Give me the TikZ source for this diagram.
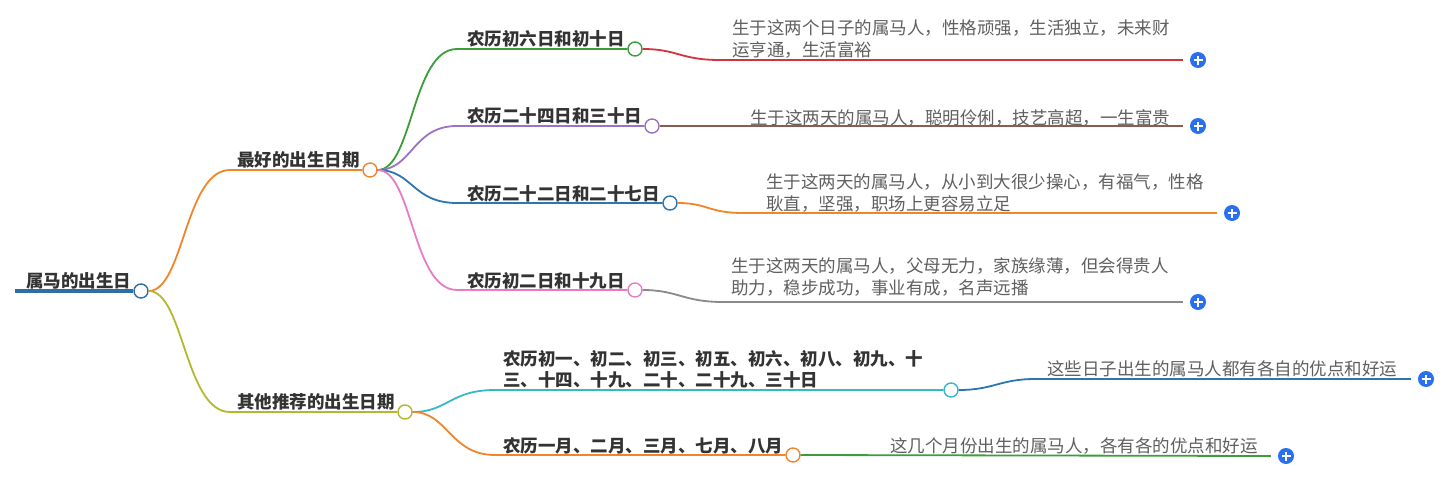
\documentclass[tikz,border=0pt]{standalone}
\usepackage{fontspec}
\newfontfamily\cjk{Noto Sans CJK SC}
\definecolor{rootblue}{HTML}{2E6EA6}
\definecolor{corange}{HTML}{F0852B}
\definecolor{colive}{HTML}{B3B92F}
\definecolor{cgreen}{HTML}{3A9E3A}
\definecolor{cpurple}{HTML}{9C72C2}
\definecolor{cblue}{HTML}{2B77B3}
\definecolor{cpink}{HTML}{E57CC5}
\definecolor{cred}{HTML}{D2343F}
\definecolor{cbrown}{HTML}{8C5B52}
\definecolor{cgray}{HTML}{8A8A8A}
\definecolor{ccyan}{HTML}{36B8C9}
\definecolor{plusblue}{HTML}{2A6FEF}
\definecolor{txtdark}{HTML}{333333}
\definecolor{txtgray}{HTML}{606060}
\begin{document}
\begin{tikzpicture}[x=1pt,y=-1pt,
  dot/.style={circle,draw=#1,fill=white,line width=1.4pt,minimum size=14pt,inner sep=0pt},
  br/.style={draw=#1,line width=1.8pt},
  lbl/.style={anchor=base west,inner sep=0pt,text=txtdark,font=\cjk\bfseries\fontsize{17.5}{21}\selectfont,align=left},
  leaf/.style={anchor=base west,inner sep=0pt,text=txtgray,font=\cjk\fontsize{17.5}{22}\selectfont,align=left},
  plusbtn/.style={circle,fill=plusblue,minimum size=16pt,inner sep=0pt,
    path picture={\draw[white,line width=1.6pt]
      ([xshift=-4.5pt]path picture bounding box.center) -- ([xshift=4.5pt]path picture bounding box.center)
      ([yshift=-4.5pt]path picture bounding box.center) -- ([yshift=4.5pt]path picture bounding box.center);}}]
\useasboundingbox[fill=white] (0,0) rectangle (1448,482);

% root
\coordinate (r0) at (15,291);
\node[lbl] (troot) at (26,287) {属马的出生日};
\node[dot=rootblue] (c0) at (141,291) {};
\draw[rootblue,line width=3.5pt] (r0) -- (c0.west);

% level 1
\coordinate (p1) at (230,170);
\coordinate (p2) at (230,412);
\node[lbl] (t1) at (237,166) {最好的出生日期};
\node[lbl] (t2) at (237,408) {其他推荐的出生日期};
\node[dot=corange] (c1) at (370,170) {};
\node[dot=colive] (c2) at (405,412) {};
\draw[br=corange] (c0.east) .. controls +(35,0) and +(-45,0) .. (p1) -- (c1.west);
\draw[br=colive] (c0.east) .. controls +(35,0) and +(-45,0) .. (p2) -- (c2.west);

% level 2 under c1
\coordinate (q1) at (457,49);
\coordinate (q2) at (457,126);
\coordinate (q3) at (457,203);
\coordinate (q4) at (457,290);
\node[lbl] (t11) at (467,45) {农历初六日和初十日};
\node[lbl] (t12) at (467,122) {农历二十四日和三十日};
\node[lbl] (t13) at (467,200) {农历二十二日和二十七日};
\node[lbl] (t14) at (467,287) {农历初二日和十九日};
\node[dot=cgreen] (d1) at (635,49) {};
\node[dot=cpurple] (d2) at (652,126) {};
\node[dot=cblue] (d3) at (670,203) {};
\node[dot=cpink] (d4) at (635,290) {};
\draw[br=cgreen] (c1.east) .. controls +(35,0) and +(-45,0) .. (q1) -- (d1.west);
\draw[br=cpurple] (c1.east) .. controls +(35,0) and +(-45,0) .. (q2) -- (d2.west);
\draw[br=cblue] (c1.east) .. controls +(35,0) and +(-45,0) .. (q3) -- (d3.west);
\draw[br=cpink] (c1.east) .. controls +(35,0) and +(-45,0) .. (q4) -- (d4.west);

% level 2 under c2
\coordinate (q5) at (495,390);
\coordinate (q6) at (495,455);
\node[lbl] (t21) at (503,386) {农历初一、初二、初三、初五、初六、初八、初九、十\\三、十四、十九、二十、二十九、三十日};
\node[lbl] (t22) at (503,452) {农历一月、二月、三月、七月、八月};
\node[dot=ccyan] (e1) at (951,390) {};
\node[dot=corange] (e2) at (793,455) {};
\draw[br=ccyan] (c2.east) .. controls +(35,0) and +(-45,0) .. (q5) -- (e1.west);
\draw[br=corange] (c2.east) .. controls +(35,0) and +(-45,0) .. (q6) -- (e2.west);

% leaves
\node[leaf] (l1) at (732,56) {生于这两个日子的属马人，性格顽强，生活独立，未来财\\运亨通，生活富裕};
\node[leaf] (l2) at (750,124) {生于这两天的属马人，聪明伶俐，技艺高超，一生富贵};
\node[leaf] (l3) at (766,210) {生于这两天的属马人，从小到大很少操心，有福气，性格\\耿直，坚强，职场上更容易立足};
\node[leaf] (l4) at (731,294) {生于这两天的属马人，父母无力，家族缘薄，但会得贵人\\助力，稳步成功，事业有成，名声远播};
\node[leaf] (l5) at (1047,375) {这些日子出生的属马人都有各自的优点和好运};
\node[leaf] (l6) at (890,452) {这几个月份出生的属马人，各有各的优点和好运};

\node[plusbtn] (b1) at (1198,60) {};
\node[plusbtn] (b2) at (1198,126) {};
\node[plusbtn] (b3) at (1232,213) {};
\node[plusbtn] (b4) at (1198,302) {};
\node[plusbtn] (b5) at (1426,379) {};
\node[plusbtn] (b6) at (1286,456) {};

\coordinate (s1) at (720,60);
\coordinate (s3) at (743,213);
\coordinate (s4) at (723,302);
\coordinate (s5) at (1035,379);
\draw[br=cred] (d1.east) .. controls +(35,0) and +(-40,0) .. (s1) -- ([xshift=-7pt]b1.west);
\draw[br=cbrown] (d2.east) -- ([xshift=-7pt]b2.west);
\draw[br=corange] (d3.east) .. controls +(30,0) and +(-35,0) .. (s3) -- ([xshift=-7pt]b3.west);
\draw[br=cgray] (d4.east) .. controls +(35,0) and +(-40,0) .. (s4) -- ([xshift=-7pt]b4.west);
\draw[br=cblue] (e1.east) .. controls +(35,0) and +(-35,0) .. (s5) -- ([xshift=-7pt]b5.west);
\draw[br=cgreen] (e2.east) -- ([xshift=-7pt]b6.west);
\end{tikzpicture}
\end{document}
